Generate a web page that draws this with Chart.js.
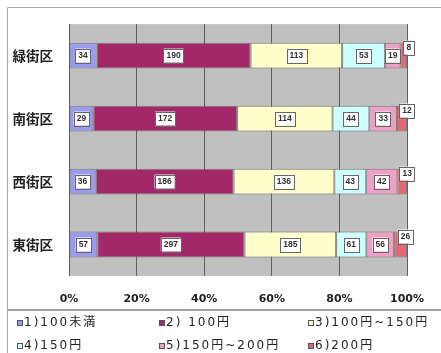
<!DOCTYPE html>
<html>
<head>
<meta charset="utf-8" />
<title>街区別 回答</title>
<script src="https://cdn.jsdelivr.net/npm/chart.js"></script>
<style>
  body { margin: 0; background: #fff; }
  #wrap { width: 441px; height: 353px; position: relative; }
</style>
</head>
<body>
<div id="wrap"><canvas id="myChart" width="441" height="353"></canvas></div>
<script>
// categories (top to bottom)
const districts = ['緑街区', '南街区', '西街区', '東街区'];
// series names
const seriesNames = ['1)100未満', '2) 100円', '3)100円~150円', '4)150円', '5)150円~200円', '6)200円'];
// counts per series, in district order
const s1 = [34, 29, 36, 57];
const s2 = [190, 172, 186, 297];
const s3 = [113, 114, 136, 185];
const s4 = [53, 44, 43, 61];
const s5 = [19, 33, 42, 56];
const s6 = [8, 12, 13, 26];
const xTicks = [0, 20, 40, 60, 80, 100];

const colors = ['#9a9af0', '#a3286a', '#ffffcc', '#ccffff', '#eea0c4', '#e26878'];
const raw = [s1, s2, s3, s4, s5, s6];
const totals = districts.map((d, j) => raw.reduce((a, s) => a + s[j], 0));

const datasets = raw.map((s, i) => ({
  label: seriesNames[i],
  data: s.map((v, j) => v / totals[j] * 100),
  raw: s,
  backgroundColor: colors[i],
  borderColor: 'rgba(70,70,70,0.55)',
  borderWidth: 1,
  borderSkipped: false,
  barPercentage: 0.41,
  categoryPercentage: 1
}));

// gray plot area + outer frame
const bgPlugin = {
  id: 'bg',
  beforeDraw(chart) {
    const ctx = chart.ctx, a = chart.chartArea;
    ctx.save();
    ctx.fillStyle = '#c0c0c0';
    ctx.fillRect(a.left, a.top, a.right - a.left, a.bottom - a.top);
    ctx.strokeStyle = '#a8a8a8';
    ctx.lineWidth = 1;
    ctx.beginPath();
    ctx.moveTo(7.5, 353); ctx.lineTo(7.5, 7.5); ctx.lineTo(441, 7.5);
    ctx.stroke();
    ctx.restore();
  }
};

// value boxes on each segment
const labelPlugin = {
  id: 'vals',
  afterDatasetsDraw(chart) {
    const ctx = chart.ctx;
    ctx.save();
    ctx.font = 'bold 8.5px "Liberation Sans"';
    ctx.textAlign = 'center';
    ctx.textBaseline = 'middle';
    chart.data.datasets.forEach((ds, i) => {
      chart.getDatasetMeta(i).data.forEach((bar, j) => {
        const txt = String(ds.raw[j]);
        let cx = (bar.x + bar.base) / 2, cy = bar.y;
        if (i === datasets.length - 1) { cx += 5; cy -= 8; }
        const w = ctx.measureText(txt).width + 6, h = 14;
        ctx.fillStyle = '#fff';
        ctx.fillRect(cx - w / 2, cy - h / 2, w, h);
        ctx.strokeStyle = '#666';
        ctx.lineWidth = 1;
        ctx.strokeRect(Math.round(cx - w / 2) + 0.5, Math.round(cy - h / 2) + 0.5, Math.round(w), h);
        ctx.fillStyle = '#333';
        ctx.fillText(txt, cx, cy + 0.5);
      });
    });
    ctx.restore();
  }
};

// two-row legend under a separator line
const legendPlugin = {
  id: 'legend2',
  afterDraw(chart) {
    const ctx = chart.ctx;
    ctx.save();
    ctx.strokeStyle = '#a0a0a0';
    ctx.lineWidth = 2;
    ctx.beginPath();
    ctx.moveTo(8, 310); ctx.lineTo(441, 310);
    ctx.stroke();
    const cols = [17, 159, 308], rows = [323, 346];
    ctx.font = '12px "DejaVu Sans", "Noto Sans CJK JP"';
    ctx.letterSpacing = '2px';
    ctx.textBaseline = 'middle';
    seriesNames.forEach((name, i) => {
      const x = cols[i % 3], y = rows[Math.floor(i / 3)];
      ctx.fillStyle = colors[i];
      ctx.fillRect(x, y - 3, 6, 6);
      ctx.strokeStyle = '#555';
      ctx.lineWidth = 1;
      ctx.strokeRect(x + 0.5, y - 2.5, 5, 5);
      ctx.fillStyle = '#222';
      ctx.fillText(name, x + 7, y);
    });
    ctx.restore();
  }
};

new Chart(document.getElementById('myChart'), {
  type: 'bar',
  data: { labels: districts, datasets: datasets },
  options: {
    indexAxis: 'y',
    responsive: false,
    animation: false,
    layout: { padding: { top: 10, right: 25, bottom: 42, left: 0 } },
    plugins: { legend: { display: false }, tooltip: { enabled: false } },
    scales: {
      x: {
        stacked: true,
        min: 0,
        max: 100,
        afterBuildTicks(axis) { axis.ticks = xTicks.map(v => ({ value: v })); },
        afterFit(axis) { axis.height = 35; },
        grid: { color: '#606060', lineWidth: 1, drawTicks: false },
        border: { display: false },
        ticks: {
          padding: 17,
          color: '#222',
          font: { family: '"DejaVu Sans"', size: 11, weight: 'bold' },
          callback: v => v + '%'
        }
      },
      y: {
        stacked: true,
        afterFit(axis) { axis.width = 69; },
        grid: { display: false, drawTicks: false },
        border: { display: false },
        ticks: {
          padding: 16,
          color: '#222',
          font: { family: '"Noto Sans CJK JP"', size: 13.5, weight: 'bold' }
        }
      }
    }
  }
  ,
  plugins: [bgPlugin, labelPlugin, legendPlugin]
});
</script>
</body>
</html>
